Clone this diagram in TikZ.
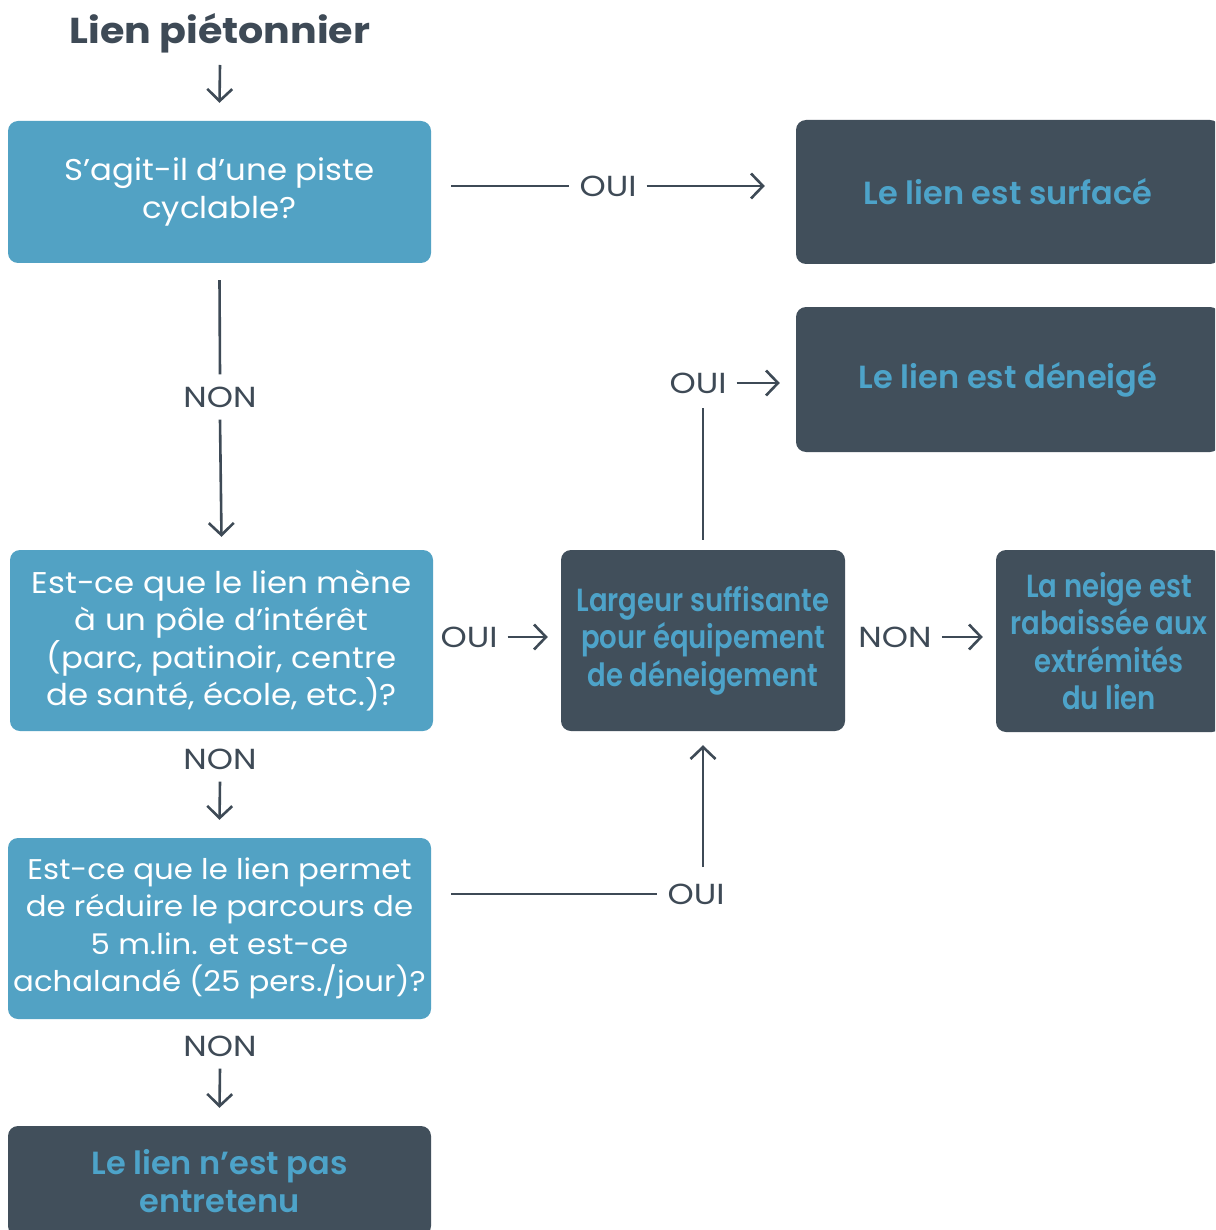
\documentclass[tikz,border=0pt]{standalone}
\usepackage{fontspec}
\setmainfont{Poppins}
\newfontfamily\widefont[FakeStretch=1.08]{Poppins}
\newfontfamily\lblfont[FakeStretch=1.15]{Poppins}
\newfontfamily\titlefont[FakeStretch=1.1]{Poppins}
\IfFontExistsTF{Poppins SemiBold}{%
  \newfontfamily\darkA{Poppins SemiBold}%
  \newfontfamily\darkB[FakeStretch=0.86]{Poppins SemiBold}%
  \newcommand\darkwt{}%
}{%
  \newfontfamily\darkA{Poppins}%
  \newfontfamily\darkB[FakeStretch=0.86]{Poppins}%
  \newcommand\darkwt{\bfseries}%
}
\usetikzlibrary{arrows.meta}
\definecolor{qblue}{HTML}{52A2C4}
\definecolor{qdark}{HTML}{414F5B}
\definecolor{qtext}{HTML}{4DA3C9}
\definecolor{qline}{HTML}{3E4A56}
\tikzset{
  boxbase/.style={rounded corners=10pt, inner sep=0pt, align=center},
  bluebox/.style={boxbase, fill=qblue, text=white, font=\widefont\fontsize{30}{37.5}\selectfont},
  darkbox/.style={boxbase, fill=qdark, text=qtext, font=\darkA\darkwt\fontsize{32}{37.5}\selectfont},
  darkboxn/.style={boxbase, fill=qdark, text=qtext, font=\darkB\darkwt\fontsize{32}{37.5}\selectfont},
  lbl/.style={text=qline, font=\lblfont\fontsize{29}{30}\selectfont, inner xsep=10pt, inner ysep=12pt},
  conn/.style={draw=qline, line width=2.6pt},
  arr/.style={conn, -{Straight Barb[length=12pt,width=25pt,line width=2.6pt]}},
}
\begin{document}
\begin{tikzpicture}[x=1pt,y=-1pt]
\clip (0,0) rectangle (1215,1230);
\fill[white] (0,0) rectangle (1215,1230);
% title
\node[text=qline, font=\titlefont\bfseries\fontsize{36}{40}\selectfont, inner sep=0pt] (title) at (220,33) {Lien piétonnier};
% boxes
\node[bluebox, minimum width=423pt, minimum height=142pt] (q1) at (219.5,192) {S’agit-il d’une piste\\cyclable?};
\node[darkbox, minimum width=424pt, minimum height=144pt] (surf) at (1008,192) {Le lien est surfacé};
\node[darkbox, minimum width=424pt, minimum height=145pt] (den) at (1008,379.5) {Le lien est déneigé};
\node[bluebox, minimum width=423pt, minimum height=181pt] (q2) at (221.5,640.5) {Est-ce que le lien mène\\à un pôle d’intérêt\\(parc, patinoir, centre\\de santé, école, etc.)?};
\node[darkboxn, minimum width=284pt, minimum height=181pt] (larg) at (703,640.5) {Largeur suffisante\\pour équipement\\de déneigement};
\node[darkboxn, minimum width=226pt, minimum height=182pt] (neige) at (1109,641) {La neige est\\rabaissée aux\\extrémités\\du lien};
\node[bluebox, font=\widefont\fontsize{28.5}{37.5}\selectfont, minimum width=423pt, minimum height=181pt] (q3) at (219.5,928.5) {Est-ce que le lien permet\\de réduire le parcours de\\5 m.lin. et est-ce\\achalandé (25 pers./jour)?};
\node[darkbox, minimum width=423pt, minimum height=110pt] (ent) at (219.5,1181) {Le lien n’est pas\\entretenu};
% labels
\node[lbl] (oui1) at (608,186) {OUI};
\node[lbl] (non1) at (220,397) {NON};
\node[lbl] (oui2) at (469,637) {OUI};
\node[lbl] (non2) at (895,637) {NON};
\node[lbl] (oui3) at (698,383) {OUI};
\node[lbl] (non3) at (220,759) {NON};
\node[lbl] (oui4) at (696,894) {OUI};
\node[lbl] (non4) at (220,1046) {NON};
% connectors
\draw[arr] ([yshift=-32pt]title.center) -- ([yshift=18pt]q1.north);
\draw[conn] ([xshift=20pt,yshift=6pt]q1.east) -- (oui1.west);
\draw[arr] (oui1.east) -- ([xshift=-31pt]oui1.east -| surf.west);
\draw[conn] ([yshift=-17pt]q1.south) -- (non1.north);
\draw[arr] (non1.south) -- ([yshift=13pt]q2.north);
\draw[arr] (oui2.east) -- ([xshift=-13pt]oui2.east -| larg.west);
\draw[arr] (non2.east) -- ([xshift=-13pt]non2.east -| neige.west);
\draw[conn] ([yshift=10pt]larg.north) -- ([yshift=-408pt]larg.north |- 0,0);
\draw[arr] (oui3.east) -- ([xshift=-16pt]oui3.east -| den.west);
\draw[arr] (non3.south) -- ([yshift=18pt]q3.north);
\draw[conn] ([xshift=20pt,yshift=34.5pt]q3.east) -- (oui4.west);
\draw[arr] ([yshift=-867pt]larg.south |- 0,0) -- ([yshift=-14pt]larg.south);
\draw[arr] (non4.south) -- ([yshift=18pt]ent.north);
\end{tikzpicture}
\end{document}
